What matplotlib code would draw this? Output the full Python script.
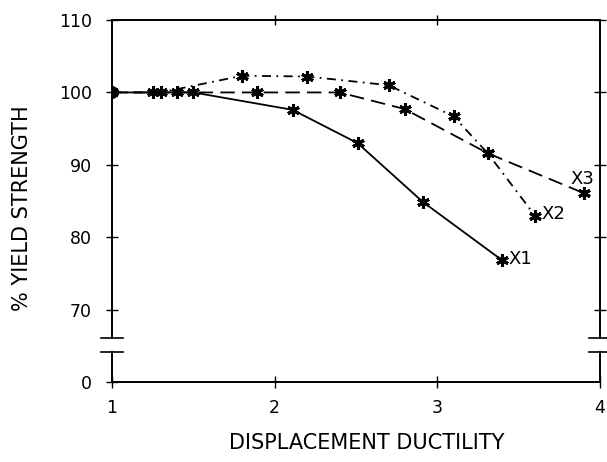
import matplotlib
matplotlib.use('Agg')
import matplotlib.pyplot as plt

# data (displacement ductility vs % yield strength)
x1_duct = [1.0, 1.50, 2.11, 2.51, 2.91, 3.40]
x1_str = [100, 100, 97.6, 93.0, 84.9, 76.8]

x2_duct = [1.0, 1.30, 1.80, 2.20, 2.70, 3.10, 3.31, 3.60]
x2_str = [100, 100, 102.3, 102.2, 101.0, 96.7, 91.6, 83.0]

x3_duct = [1.0, 1.25, 1.40, 1.89, 2.40, 2.80, 3.31, 3.90]
x3_str = [100, 100, 100, 100, 100, 97.7, 91.6, 86.1]

curve_names = ['X1', 'X2', 'X3']
x_ticks = [1, 2, 3, 4]
y_ticks_upper = [70, 80, 90, 100, 110]
y_ticks_lower = [0]

fig = plt.figure(figsize=(6.07, 4.62), dpi=100)
ax = fig.add_axes([0.1845, 0.2684, 0.804, 0.6883])
axb = fig.add_axes([0.1845, 0.1732, 0.804, 0.0649])

lw = 1.3
star = dict(marker=(6, 2, 0), ms=9, mew=2.2)  # bold asterisk like the plotter symbol
ax.plot(x1_duct, x1_str, color='black', lw=lw, ls='-', **star)
ax.plot(x2_duct, x2_str, color='black', lw=lw, ls=(0, (5, 3, 1, 3)), **star)
ax.plot(x3_duct, x3_str, color='black', lw=lw, ls=(0, (8, 4)), **star)
ax.plot([x1_duct[0]], [x1_str[0]], 'o', color='black', ms=8)

# curve labels next to the last points
ax.text(x1_duct[-1] + 0.04, x1_str[-1] + 0.2, curve_names[0], fontsize=13, va='center')
ax.text(x2_duct[-1] + 0.04, x2_str[-1] + 0.2, curve_names[1], fontsize=13, va='center')
ax.text(x3_duct[-1] - 0.08, x3_str[-1] + 2.0, curve_names[2], fontsize=13, va='center')

# upper part of the broken axis
ax.set_xlim(1, 4)
ax.set_ylim(66.1, 110)
ax.spines['bottom'].set_visible(False)
ax.set_yticks(y_ticks_upper)
ax.set_xticks([2, 3])
ax.tick_params(axis='y', direction='inout', length=9, width=1, left=True, right=True,
               labelsize=12.5, pad=10)
ax.tick_params(axis='x', direction='inout', length=7, width=1, top=True, bottom=False,
               labelbottom=False, labeltop=False)

# lower part (just the zero)
axb.set_xlim(1, 4)
axb.set_ylim(0, 4.1)
axb.spines['top'].set_visible(False)
axb.set_yticks(y_ticks_lower)
axb.set_xticks(x_ticks)
axb.tick_params(axis='y', direction='inout', length=9, width=1, left=True, right=False,
                labelsize=12.5, pad=10)
axb.tick_params(axis='x', direction='inout', length=9, width=1, labelsize=12.5, pad=8)

for a in (ax, axb):
    for s in a.spines.values():
        s.set_linewidth(1.4)

# break marks
w = 11 / 488
for xx in (0, 1):
    ax.plot([xx - w, xx + w], [0, 0], transform=ax.transAxes, color='black', lw=1.2, clip_on=False)
    axb.plot([xx - w, xx + w], [1, 1], transform=axb.transAxes, color='black', lw=1.2, clip_on=False)

fig.text(367 / 607, 1 - 443 / 462, 'DISPLACEMENT DUCTILITY', fontsize=15,
         ha='center', va='center')
fig.text(22 / 607, 1 - 208 / 462, '% YIELD STRENGTH', fontsize=15, rotation=90,
         ha='center', va='center')

fig.savefig('out.png', dpi=100)
